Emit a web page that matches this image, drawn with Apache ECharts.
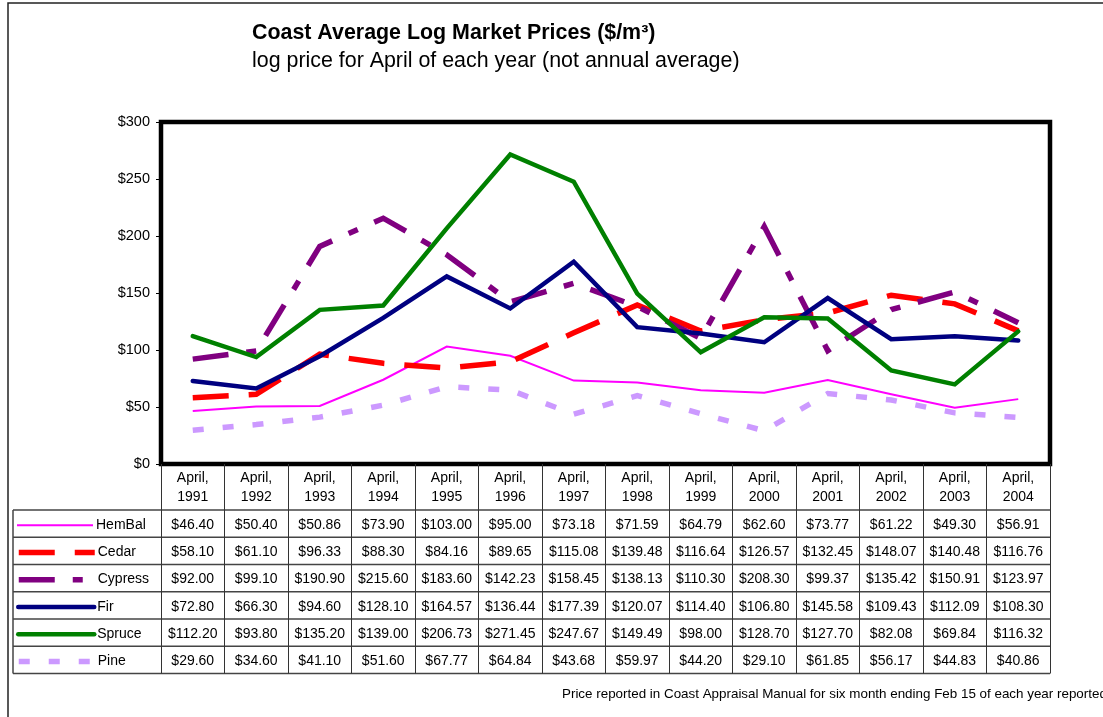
<!DOCTYPE html>
<html>
<head>
<meta charset="utf-8">
<script src="https://cdn.jsdelivr.net/npm/echarts@6/dist/echarts.min.js"></script>
<style>
html,body{margin:0;padding:0;background:#fff;}
#chart{width:1103px;height:717px;}
</style>
</head>
<body>
<div id="chart"></div>
<script>
const years = ['1991','1992','1993','1994','1995','1996','1997','1998','1999','2000','2001','2002','2003','2004'];
const seriesNames = ['HemBal','Cedar','Cypress','Fir','Spruce','Pine'];
const hemBal  = [46.40, 50.40, 50.86, 73.90, 103.00, 95.00, 73.18, 71.59, 64.79, 62.60, 73.77, 61.22, 49.30, 56.91];
const cedar   = [58.10, 61.10, 96.33, 88.30, 84.16, 89.65, 115.08, 139.48, 116.64, 126.57, 132.45, 148.07, 140.48, 116.76];
const cypress = [92.00, 99.10, 190.90, 215.60, 183.60, 142.23, 158.45, 138.13, 110.30, 208.30, 99.37, 135.42, 150.91, 123.97];
const fir     = [72.80, 66.30, 94.60, 128.10, 164.57, 136.44, 177.39, 120.07, 114.40, 106.80, 145.58, 109.43, 112.09, 108.30];
const spruce  = [112.20, 93.80, 135.20, 139.00, 206.73, 271.45, 247.67, 149.49, 98.00, 128.70, 127.70, 82.08, 69.84, 116.32];
const pine    = [29.60, 34.60, 41.10, 51.60, 67.77, 64.84, 43.68, 59.97, 44.20, 29.10, 61.85, 56.17, 44.83, 40.86];
const yTicks = [0, 50, 100, 150, 200, 250, 300];

const seriesValues = [hemBal, cedar, cypress, fir, spruce, pine];
const styles = [
  {color:'#FF00FF', width:2, type:'solid', cap:'butt'},
  {color:'#FF0000', width:5.5, type:[36,20], cap:'butt'},
  {color:'#800080', width:5.5, type:[36,18,10,18], cap:'butt'},
  {color:'#000080', width:4.5, type:'solid', cap:'round'},
  {color:'#008000', width:4.5, type:'solid', cap:'round'},
  {color:'#CC99FF', width:5.5, type:[11,19], cap:'butt'}
];

const W = 1103, H = 717;
const gridL = 161, gridR = 1050, gridT = 122, gridB = 464;
const rowTop = 510, rowH = 27.25, tableL = 13;
const rowCenter = i => rowTop + rowH * (i + 0.5);
const FONT = 'Liberation Sans, Arial, sans-serif';

const chart = echarts.init(document.getElementById('chart'), null, {renderer:'canvas'});

const xAxes = [{
  type:'category', data: years, gridIndex:0, position:'bottom', boundaryGap:true,
  axisLine:{show:false},
  axisTick:{show:true, interval:0, length: rowTop + rowH*6 - gridB, lineStyle:{color:'#333', width:1}},
  axisLabel:{interval:0, margin:5, fontSize:14, lineHeight:18.5, color:'#000', fontFamily:FONT,
    formatter: v => 'April,\n' + v},
  splitLine:{show:false}
}];
seriesValues.forEach((arr, i) => {
  xAxes.push({
    type:'category', data: years, gridIndex:0, position:'bottom', boundaryGap:true,
    offset: rowCenter(i) - gridB - 7.5,
    axisLine:{show:false}, axisTick:{show:false}, splitLine:{show:false},
    axisLabel:{interval:0, margin:0, fontSize:14, lineHeight:18, color:'#000', fontFamily:FONT,
      formatter: (v, idx) => '$' + arr[idx].toFixed(2)}
  });
});

const graphics = [
  {type:'rect', shape:{x:8, y:3, width:W+50, height:H+50}, style:{fill:null, stroke:'#222', lineWidth:1.5}, z:0, silent:true},
  {type:'text', left:562, top:688, style:{text:'Price reported in Coast Appraisal Manual for six month ending Feb 15 of each year reported', fontSize:13.4, fontFamily:FONT, fill:'#000'}}
];
for (let k = 0; k <= 6; k++) {
  const y = rowTop + rowH * k;
  graphics.push({type:'line', shape:{x1:tableL, y1:y, x2:gridR, y2:y}, style:{stroke:'#444', lineWidth:1.5}, silent:true});
}
graphics.push({type:'line', shape:{x1:tableL, y1:rowTop, x2:tableL, y2:rowTop + rowH*6}, style:{stroke:'#444', lineWidth:1.5}, silent:true});

const legends = seriesNames.map((name, i) => ({
  show:true, data:[name], left:16, top: rowCenter(i) - 5.5, padding:0, itemWidth:76, itemHeight:14, itemGap:0,
  selectedMode:false,
  textStyle:{fontSize:14, color:'#000', fontFamily:FONT, padding:[0,0,0,-2]},
  lineStyle:{color:styles[i].color, width:styles[i].width, type:styles[i].type, cap:styles[i].cap},
  itemStyle:{opacity:0}
}));

const option = {
  animation:false,
  backgroundColor:'#fff',
  title:[
    {text:'Coast Average Log Market Prices ($/m³)', left:252, top:23, padding:0,
     textStyle:{fontSize:21.4, fontWeight:'bold', color:'#000', fontFamily:FONT}},
    {text:'log price for April of each year (not annual average)', left:252, top:51, padding:0,
     textStyle:{fontSize:21.4, fontWeight:'normal', color:'#000', fontFamily:FONT}}
  ],
  legend: legends,
  grid:{left:gridL, right:W-gridR, top:gridT, bottom:H-gridB, show:true, borderColor:'#000', borderWidth:4.5, backgroundColor:'#fff'},
  xAxis: xAxes,
  yAxis:{type:'value', min:yTicks[0], max:yTicks[yTicks.length-1], interval:50,
    axisLine:{show:false}, splitLine:{show:false},
    axisTick:{show:true, length:5, lineStyle:{color:'#000', width:1}},
    axisLabel:{margin:11, fontSize:14.5, color:'#000', fontFamily:FONT, formatter: v => '$' + v}},
  series: seriesValues.map((arr, i) => ({
    name: seriesNames[i], type:'line', data: arr, xAxisIndex:0, symbol:'none', smooth:false,
    lineStyle:{color:styles[i].color, width:styles[i].width, type:styles[i].type, cap:styles[i].cap, join:'miter'},
    itemStyle:{color:styles[i].color}
  })),
  graphic: graphics
};
chart.setOption(option);
</script>
</body>
</html>
